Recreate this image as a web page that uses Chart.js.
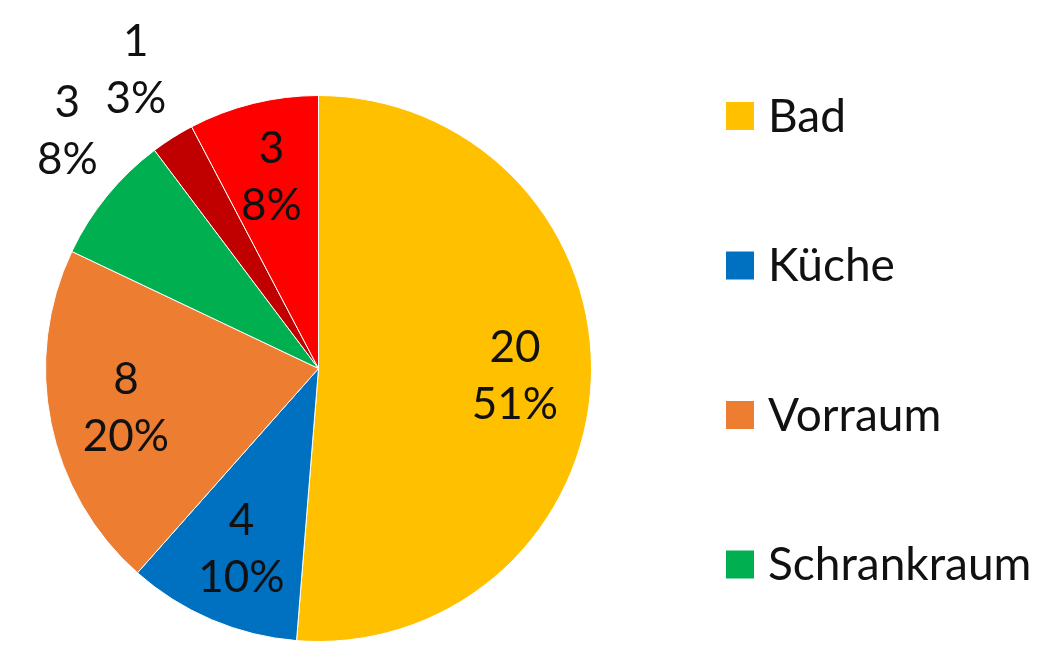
<!DOCTYPE html>
<html>
<head>
<meta charset="utf-8">
<script src="https://cdn.jsdelivr.net/npm/chart.js@4"></script>
<style>
  html, body { margin: 0; padding: 0; background: #fff; }
  #wrap { width: 1044px; height: 645px; }
</style>
</head>
<body>
<div id="wrap"><canvas id="pieChart" width="1044" height="645"></canvas></div>
<script>
// Daten
const categories = ['Bad', 'Küche', 'Vorraum', 'Schrankraum', 'WC', 'Abstellraum'];
const values = [20, 4, 8, 3, 1, 3];
const percentLabels = ['51%', '10%', '20%', '8%', '3%', '8%'];
const sliceColors = ['#FFC000', '#0070C0', '#ED7D31', '#00B050', '#C00000', '#FF0000'];
const labelOutside = [false, false, false, true, true, false];

const FONT = 'Lato, "DejaVu Sans", sans-serif';

// Beschriftungen der Segmente (Wert + Prozent)
const sliceLabels = {
    id: 'sliceLabels',
    afterDatasetsDraw(chart) {
        const ctx = chart.ctx;
        const meta = chart.getDatasetMeta(0);
        const lineH = 57;
        ctx.save();
        ctx.font = '44px ' + FONT;
        ctx.fillStyle = '#111';
        ctx.textAlign = 'center';
        ctx.textBaseline = 'middle';
        meta.data.forEach((arc, i) => {
            const p = arc.getProps(['x', 'y', 'startAngle', 'endAngle', 'outerRadius'], true);
            const mid = (p.startAngle + p.endAngle) / 2;
            const lines = [String(values[i]), percentLabels[i]];
            let cx, cy;
            if (labelOutside[i]) {
                const d = p.outerRadius + 12;
                const ax = p.x + Math.cos(mid) * d;
                const ay = p.y + Math.sin(mid) * d;
                const w = Math.max(...lines.map(t => ctx.measureText(t).width));
                const h = lineH * 2;
                cx = ax + Math.sign(Math.cos(mid)) * w / 2;
                cy = ay + Math.sign(Math.sin(mid)) * h / 2;
            } else {
                const d = p.outerRadius * 0.72;
                cx = p.x + Math.cos(mid) * d;
                cy = p.y + Math.sin(mid) * d;
            }
            ctx.fillText(lines[0], cx, cy - lineH / 2);
            ctx.fillText(lines[1], cx, cy + lineH / 2);
        });
        ctx.restore();
    }
};

// Legende rechts, feste Abstaende wie im Original
const sideLegend = {
    id: 'sideLegend',
    afterDraw(chart) {
        const ctx = chart.ctx;
        const ds = chart.data.datasets[0];
        ctx.save();
        ctx.font = '46px ' + FONT;
        ctx.textAlign = 'left';
        ctx.textBaseline = 'middle';
        chart.data.labels.forEach((lab, i) => {
            const y = 116 + i * 149.5;
            if (y > chart.height) return;
            ctx.fillStyle = ds.backgroundColor[i];
            ctx.fillRect(726, y - 14, 28, 28);
            ctx.fillStyle = '#111';
            ctx.fillText(lab, 768, y + 1);
        });
        ctx.restore();
    }
};

const myChart = new Chart(document.getElementById('pieChart'), {
    type: 'pie',
    data: {
        labels: categories,
        datasets: [{
            data: values,
            backgroundColor: sliceColors,
            borderColor: '#fff',
            borderWidth: 1
        }]
    },
    options: {
        responsive: false,
        animation: false,
        layout: {
            padding: { left: 45, top: 95, right: 452, bottom: 3 }
        },
        plugins: {
            legend: { display: false },
            tooltip: { enabled: false }
        }
    },
    plugins: [sliceLabels, sideLegend]
});
</script>
</body>
</html>
